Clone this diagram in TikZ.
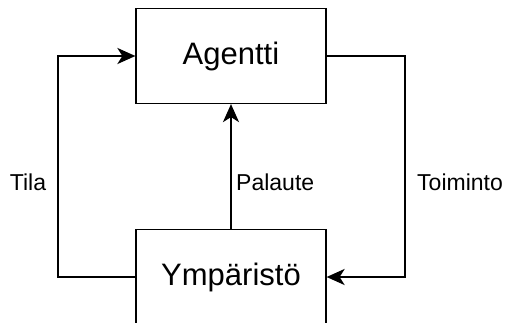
\documentclass[tikz,border=0pt]{standalone}
\usepackage{fontspec}
\setmainfont{Liberation Sans}
\usetikzlibrary{arrows.meta}
\begin{document}
\begin{tikzpicture}[x=1pt,y=-1pt,
  block/.style={draw, line width=1.2pt, minimum width=190pt, minimum height=95pt,
    inner sep=0pt, font=\fontsize{31}{36}\selectfont},
  link/.style={line width=2.4pt, -{Stealth[length=18pt,width=16pt,inset=5pt]}},
  lbl/.style={font=\fontsize{23}{27}\selectfont, inner sep=0pt}]
\useasboundingbox (0,0) rectangle (509,322);
\clip (0,0) rectangle (509,322);

% the two boxes
\node[block] (agent) at (231,56) {Agentti};
\node[block] (env) at (231,277) {Ympäristö};

% columns of the outer loop
\coordinate (leftcol) at (58,0);
\coordinate (rightcol) at (405,0);

% state: environment back to the agent
\draw[link] (env.west) -- (env.west -| leftcol) -- (agent.west -| leftcol) -- (agent.west);
% action: agent to the environment
\draw[link] (agent.east) -- (agent.east -| rightcol) -- (env.east -| rightcol) -- (env.east);
% feedback
\draw[link] (env.north) -- (agent.south);

% connector labels
\node[lbl] (tila) at (28,182) {Tila};
\node[lbl, anchor=west] (palaute) at (236,182) {Palaute};
\node[lbl, anchor=west] (toiminto) at (417,182) {Toiminto};
\end{tikzpicture}
\end{document}
